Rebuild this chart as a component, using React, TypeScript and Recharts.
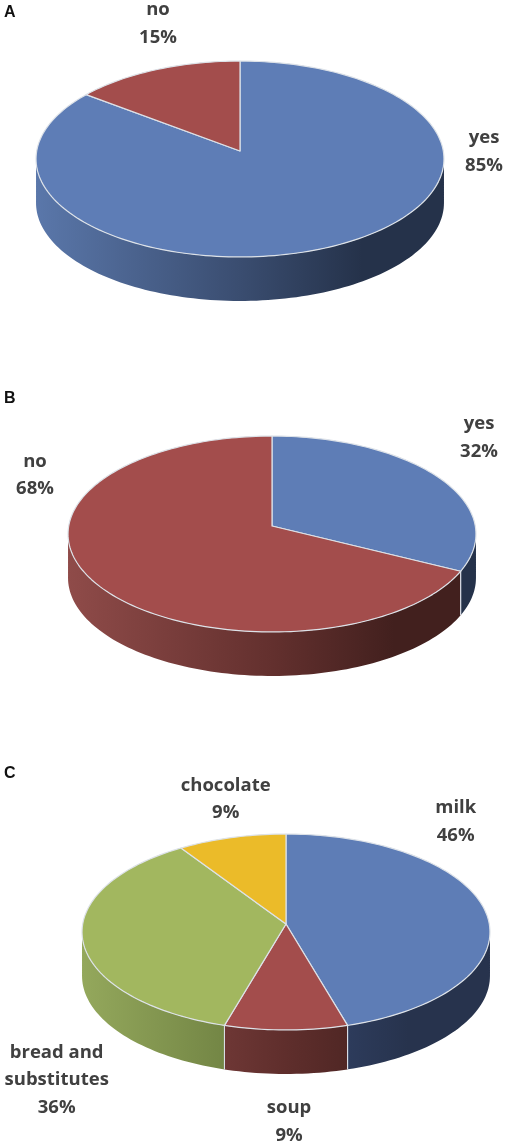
import React from 'react';
import { PieChart, Pie, Cell } from 'recharts';

const panelANames = ['yes', 'no'];
const panelAValues = [85.4, 14.6];
const panelBNames = ['yes', 'no'];
const panelBValues = [32.4, 67.6];
const panelCNames = ['milk', 'soup', 'bread and\nsubstitutes', 'chocolate'];
const panelCValues = [45.5, 9, 36.2, 9.3];

const BLUE = '#5e7db6';
const RED = '#a34d4c';
const GREEN = '#a2b75f';
const YELLOW = '#ebbb29';

const toRows = (names: string[], values: number[]) =>
  names.map((name, i) => ({ name, value: values[i] }));

// perspective tilt of the disc, relative to its radius
const K = -0.0816;
const SQUASH_Y = 0.477;
const SQUASH_X = 0.9965;
const DEPTH = 44;
const STEP = 1.5;

const project = (cx: number, cy: number, r: number, deg: number) => {
  const t = (deg * Math.PI) / 180;
  const u = Math.sin(t);
  const v = -Math.cos(t);
  const d = 1 + K * v;
  return { x: cx + (SQUASH_X * r * u) / d, y: cy + (SQUASH_Y * r * v) / d };
};

const samples = (a: number, b: number) => {
  const out: number[] = [];
  for (let d = a; d < b; d += STEP) out.push(d);
  out.push(b);
  return out;
};

const fmt = (p: { x: number; y: number }, dy = 0) => `${p.x.toFixed(2)} ${(p.y + dy).toFixed(2)}`;

// silhouette of the disc, as sweep angles from 12 o'clock
const FRONT_FROM = 94.7;
const FRONT_TO = 265.3;

const DiscSlice = (props: any) => {
  const { cx, cy, outerRadius: r, startAngle, endAngle, fill, wall } = props;
  const a = 90 - startAngle;
  const b = 90 - endAngle;
  const rim = samples(a, b).map((d) => project(cx, cy, r, d));
  const top = `M${cx} ${cy} L` + rim.map((p) => fmt(p)).join(' L') + ' Z';
  const fa = Math.max(a, FRONT_FROM);
  const fb = Math.min(b, FRONT_TO);
  let side = null;
  if (fb > fa) {
    const pts = samples(fa, fb).map((d) => project(cx, cy, r, d));
    const back = [...pts].reverse();
    const path =
      'M' + pts.map((p) => fmt(p)).join(' L') + ' L' + back.map((p) => fmt(p, DEPTH)).join(' L') + ' Z';
    const first = pts[0];
    const last = pts[pts.length - 1];
    side = (
      <g>
        <path d={path} fill={`url(#${wall})`} />
        {a > FRONT_FROM && (
          <line x1={first.x} y1={first.y} x2={first.x} y2={first.y + DEPTH} stroke="#d8dde5" strokeWidth={1.1} />
        )}
        {b < FRONT_TO && (
          <line x1={last.x} y1={last.y} x2={last.x} y2={last.y + DEPTH} stroke="#d8dde5" strokeWidth={1.1} />
        )}
      </g>
    );
  }
  return (
    <g>
      {side}
      <path d={top} fill={fill} stroke="#dde2e8" strokeWidth={1.2} strokeLinejoin="round" />
    </g>
  );
};

const LABEL_FONT = { fontFamily: '"Open Sans", sans-serif', fontWeight: 700, fontSize: 18.5, fill: '#404040' };
const LINE = 27.6;

const makeLabel =
  (spots: { x: number; y: number }[], names: string[], values: number[]) =>
  ({ index }: any) => {
    const spot = spots[index];
    const lines = [...names[index].split('\n'), `${Math.round(values[index])}%`];
    return (
      <text key={index} textAnchor="middle" {...LABEL_FONT}>
        {lines.map((l, i) => (
          <tspan key={i} x={spot.x} y={spot.y + i * LINE}>
            {l}
          </tspan>
        ))}
      </text>
    );
  };

const gradient = (id: string, x1: number, x2: number, from: string, mid: string, to: string) => (
  <linearGradient id={id} gradientUnits="userSpaceOnUse" x1={x1} x2={x2} y1={0} y2={0}>
    <stop offset="0" stopColor={from} />
    <stop offset="0.5" stopColor={mid} />
    <stop offset="0.8" stopColor={to} />
    <stop offset="1" stopColor={to} />
  </linearGradient>
);

const Panel = (
  key: string,
  cx: number,
  cy: number,
  names: string[],
  values: number[],
  colors: string[],
  walls: string[],
  spots: { x: number; y: number }[],
) => (
  <Pie
    key={key}
    data={toRows(names, values)}
    dataKey="value"
    nameKey="name"
    cx={cx}
    cy={cy}
    innerRadius={0}
    outerRadius={204}
    startAngle={90}
    endAngle={-270}
    stroke="none"
    isAnimationActive={false}
    labelLine={false}
    label={makeLabel(spots, names, values)}
    shape={(p: any) => <DiscSlice {...p} wall={walls[p.index]} />}
  >
    {values.map((_, i) => (
      <Cell key={i} fill={colors[i]} />
    ))}
  </Pie>
);

const PANEL_FONT = { fontFamily: '"Liberation Sans", Arial, sans-serif', fontWeight: 700, fontSize: 16, fill: '#111' };

export default function App() {
  return (
    <div style={{ position: 'absolute', left: 0, top: 0, width: 510, height: 1147, filter: 'blur(0.45px)' }}>
      <PieChart width={510} height={1147} margin={{ top: 0, right: 0, bottom: 0, left: 0 }}>
        <defs>
          {gradient('wallBlueA', 36, 444, '#5a77aa', '#3a4d70', '#25324a')}
          {gradient('wallBlueB', 68, 476, '#5a77aa', '#3a4d70', '#25324a')}
          {gradient('wallRedB', 68, 476, '#8f4b49', '#63302e', '#42201e')}
          {gradient('wallBlueC', 82, 490, '#5a77aa', '#33446a', '#27334d')}
          {gradient('wallRedC', 82, 490, '#8f4b49', '#5f2e2c', '#42201e')}
          {gradient('wallGreenC', 82, 490, '#94a85c', '#65773b', '#4c5a2c')}
          {gradient('wallYellowC', 82, 490, '#c9a023', '#8a6e18', '#5f4b10')}
        </defs>
        <text x={4} y={17} {...PANEL_FONT}>A</text>
        <text x={4} y={403} {...PANEL_FONT}>B</text>
        <text x={4} y={778} {...PANEL_FONT}>C</text>
        {Panel('A', 240, 151, panelANames, panelAValues, [BLUE, RED], ['wallBlueA', 'wallRedC'], [
          { x: 484, y: 143 },
          { x: 158, y: 15 },
        ])}
        {Panel('B', 272, 526, panelBNames, panelBValues, [BLUE, RED], ['wallBlueB', 'wallRedB'], [
          { x: 479, y: 429 },
          { x: 35, y: 466.5 },
        ])}
        {Panel('C', 286, 924, panelCNames, panelCValues, [BLUE, RED, GREEN, YELLOW], ['wallBlueC', 'wallRedC', 'wallGreenC', 'wallYellowC'], [
          { x: 455.7, y: 813 },
          { x: 289, y: 1113 },
          { x: 56.7, y: 1057.5 },
          { x: 225.7, y: 790.5 },
        ])}
      </PieChart>
    </div>
  );
}
